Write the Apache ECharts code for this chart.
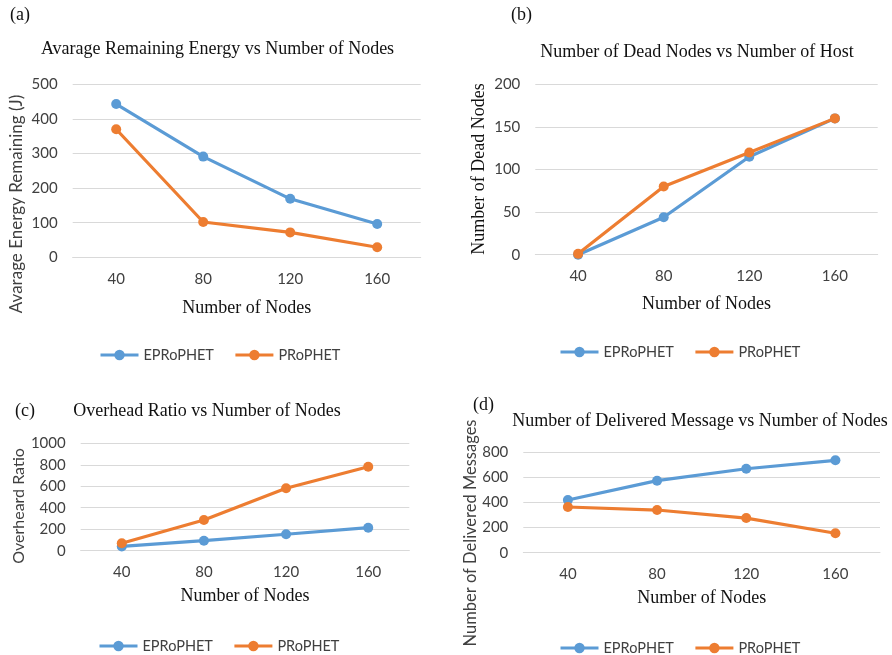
<!DOCTYPE html>
<html>
<head>
<meta charset="utf-8">
<script src="https://cdn.jsdelivr.net/npm/echarts@6/dist/echarts.min.js"></script>
<style>html,body{margin:0;padding:0;background:#fff}#c{width:892px;height:655px}</style>
</head>
<body>
<div id="c"></div>
<script>
var categories = ['40', '80', '120', '160'];
var seriesNames = ['EPRoPHET', 'PRoPHET'];

var energyEP = [443, 291, 169, 96];
var energyP = [370, 102, 72, 29];

var deadEP = [0, 44, 115, 160];
var deadP = [1, 80, 120, 160];

var overheadEP = [40, 93, 153, 214];
var overheadP = [69, 286, 581, 782];

var deliveredEP = [420, 574, 669, 736];
var deliveredP = [364, 340, 276, 155];

var panelTitles = [
  'Avarage Remaining Energy vs Number of Nodes',
  'Number of Dead Nodes vs Number of Host',
  'Overhead Ratio vs Number of Nodes',
  'Number of Delivered Message vs Number of Nodes'
];
var panelLabels = ['(a)', '(b)', '(c)', '(d)'];
var yNames = ['Avarage Energy Remaining (J)', 'Number of Dead Nodes', 'Overheard Ratio', 'Number of Delivered Messages'];
var xName = 'Number of Nodes';
var yMax = [500, 200, 1000, 800];
var yInterval = [100, 50, 200, 200];

var BLUE = '#5B9BD5', ORANGE = '#ED7D31';
var SANS = 'Lato, "Liberation Sans", sans-serif';
var SERIF = '"Liberation Serif", "Times New Roman", serif';
var SANS_COLOR = '#404040';
var SERIF_COLOR = '#111111';

var grids = [
  {left: 72.7, top: 84.3, width: 348, height: 173},
  {left: 535.3, top: 84.3, width: 342.4, height: 170.4},
  {left: 80.7, top: 443.3, width: 328.6, height: 107.4},
  {left: 523.3, top: 452.3, width: 356.7, height: 100.4}
];
var xNameGap = [42, 41, 37, 37];
var titlePos = [[217.5, 49.3], [697, 52], [207, 411.7], [700, 421]];
var labelPos = [[10, 15], [511, 15], [15, 411.7], [473, 405]];
var yNamePos = [[17, 204, SANS, 17], [479, 169, SERIF, 18], [19, 506, SANS, 16], [471, 533, SANS, 16.5]];
var legendPos = [[99, 354], [559, 351], [98, 645], [559, 647]];

var data = [[energyEP, energyP], [deadEP, deadP], [overheadEP, overheadP], [deliveredEP, deliveredP]];

var option = {
  animation: false,
  backgroundColor: '#fff',
  grid: grids.map(function (g) { return {left: g.left, top: g.top, width: g.width, height: g.height, containLabel: false}; }),
  xAxis: grids.map(function (g, i) {
    return {
      type: 'category', gridIndex: i, data: categories, boundaryGap: true,
      name: xName, nameLocation: 'middle', nameGap: xNameGap[i],
      nameTextStyle: {fontFamily: SERIF, fontSize: 18, color: SERIF_COLOR},
      axisLine: {show: true, lineStyle: {color: '#D9D9D9', width: 1}},
      axisTick: {show: false},
      axisLabel: {fontFamily: SANS, fontSize: 15, color: SANS_COLOR, margin: 14}
    };
  }),
  yAxis: grids.map(function (g, i) {
    return {
      type: 'value', gridIndex: i, min: 0, max: yMax[i], interval: yInterval[i],
      axisLine: {show: false}, axisTick: {show: false},
      splitLine: {lineStyle: {color: '#D9D9D9', width: 1}},
      axisLabel: {fontFamily: SANS, fontSize: 15, color: SANS_COLOR, margin: 15,
        formatter: function (v) { return String(v); }}
    };
  }),
  legend: legendPos.map(function (p, i) {
    return {
      left: p[0], top: p[1] - 6.5, padding: 0, itemWidth: 38, itemHeight: 13, itemGap: 20,
      data: seriesNames.map(function (n) { return {name: n}; }),
      lineStyle: {width: 3},
      textStyle: {fontFamily: SANS, fontSize: 14.5, color: SANS_COLOR},
      selectedMode: false
    };
  }),
  series: [],
  graphic: []
};

data.forEach(function (pair, i) {
  pair.forEach(function (vals, k) {
    option.series.push({
      type: 'line', name: seriesNames[k], xAxisIndex: i, yAxisIndex: i, data: vals,
      symbol: 'circle', symbolSize: 10,
      lineStyle: {width: 3.2, color: k === 0 ? BLUE : ORANGE},
      itemStyle: {color: k === 0 ? BLUE : ORANGE},
      z: k === 0 ? 2 : 3
    });
  });
});

panelTitles.forEach(function (t, i) {
  option.graphic.push({
    type: 'text', x: titlePos[i][0], y: titlePos[i][1],
    style: {text: t, font: '18px ' + SERIF, fill: SERIF_COLOR, textAlign: 'center', textVerticalAlign: 'middle'}
  });
  option.graphic.push({
    type: 'text', x: labelPos[i][0], y: labelPos[i][1],
    style: {text: panelLabels[i], font: '18px ' + SERIF, fill: SERIF_COLOR, textAlign: 'left', textVerticalAlign: 'middle'}
  });
  option.graphic.push({
    type: 'text', x: yNamePos[i][0], y: yNamePos[i][1], rotation: Math.PI / 2,
    style: {text: yNames[i], font: yNamePos[i][3] + 'px ' + yNamePos[i][2], fill: yNamePos[i][2] === SERIF ? SERIF_COLOR : SANS_COLOR, textAlign: 'center', textVerticalAlign: 'middle'}
  });
});

var chart = echarts.init(document.getElementById('c'), null, {renderer: 'canvas'});
chart.setOption(option);
</script>
</body>
</html>
